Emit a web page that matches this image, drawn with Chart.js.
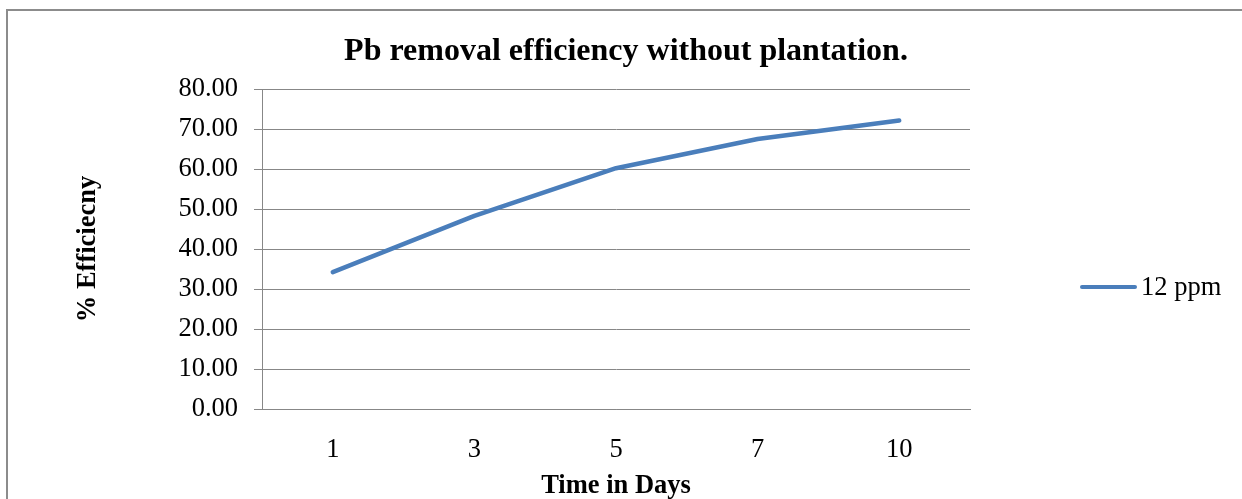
<!DOCTYPE html>
<html>
<head>
<meta charset="utf-8">
<script src="https://cdn.jsdelivr.net/npm/chart.js@4/dist/chart.umd.min.js"></script>
<style>
  html, body { margin: 0; padding: 0; background: #ffffff; overflow: hidden; }
  #frame { position: absolute; left: 6px; top: 9px; width: 1300px; height: 600px; border: 2px solid #8c8c8c; box-sizing: border-box; }
  #c { position: absolute; left: 0; top: 0; }
</style>
</head>
<body>
<div id="frame"></div>
<canvas id="c" width="1242" height="499"></canvas>
<script>
const categories = ['1', '3', '5', '7', '10'];
const seriesName = '12 ppm';
const efficiency = [34.2, 48.3, 60.2, 67.5, 72.1];
const yTicks = [0, 10, 20, 30, 40, 50, 60, 70, 80];

const chartTitle = 'Pb removal efficiency without plantation.';
const xTitle = 'Time in Days';
const yTitle = '% Efficiecny';

const SERIF = '"Liberation Serif", "Times New Roman", serif';
const GRID = '#878787';
const LINE = '#4a7ebb';
const FS = 26.5;

const legendPlugin = {
  id: 'sideLegend',
  afterDraw(chart) {
    const ds = chart.data.datasets[0];
    const a = chart.chartArea;
    const ctx = chart.ctx;
    const y = a.top + 198;
    const x0 = a.right + 112;
    ctx.save();
    ctx.strokeStyle = ds.borderColor;
    ctx.lineWidth = 4;
    ctx.lineCap = 'round';
    ctx.beginPath();
    ctx.moveTo(x0, y);
    ctx.lineTo(x0 + 53, y);
    ctx.stroke();
    ctx.fillStyle = '#000';
    ctx.font = FS + 'px ' + SERIF;
    ctx.textBaseline = 'middle';
    ctx.textAlign = 'left';
    ctx.fillText(ds.label, x0 + 59, y + 1);
    ctx.restore();
  }
};

new Chart(document.getElementById('c'), {
  type: 'line',
  data: {
    labels: categories,
    datasets: [{
      label: seriesName,
      data: efficiency,
      borderColor: LINE,
      backgroundColor: LINE,
      borderWidth: 4.5,
      borderCapStyle: 'round',
      borderJoinStyle: 'round',
      pointRadius: 0,
      tension: 0,
      fill: false,
      yAxisID: 'y'
    }]
  },
  options: {
    responsive: false,
    animation: false,
    layout: { padding: { left: 10, right: 0, top: 0, bottom: 0 } },
    plugins: {
      legend: { display: false },
      tooltip: { enabled: false },
      title: {
        display: true,
        text: chartTitle,
        color: '#000',
        font: { family: SERIF, size: 32, weight: 'bold', lineHeight: 1.2 },
        padding: { top: 32.3, bottom: 18.3 }
      }
    },
    scales: {
      x: {
        offset: true,
        grid: { display: false, drawTicks: false },
        border: { display: true, color: GRID, width: 1 },
        ticks: { color: '#000', font: { family: SERIF, size: FS }, padding: 25, maxRotation: 0 },
        title: {
          display: true, text: xTitle, color: '#000',
          font: { family: SERIF, size: FS, weight: 'bold', lineHeight: 1 },
          padding: { top: 0, bottom: 0 }
        },
        afterFit(scale) { scale.height = 90; }
      },
      y: {
        position: 'left',
        min: 0,
        max: 80,
        afterBuildTicks(scale) { scale.ticks = yTicks.map(v => ({ value: v })); },
        grid: { color: GRID, lineWidth: 1, tickLength: 8, drawTicks: true },
        border: { display: true, color: GRID, width: 1 },
        ticks: {
          color: '#000', font: { family: SERIF, size: FS }, padding: 16,
          callback: (v) => Number(v).toFixed(2)
        },
        title: {
          display: true, text: yTitle, color: '#000',
          font: { family: SERIF, size: FS, weight: 'bold', lineHeight: 1.2 },
          padding: { top: 62.5, bottom: 0 }
        },
        afterFit(scale) { scale.width = 252; }
      },
      legendSpace: {
        type: 'linear',
        position: 'right',
        display: true,
        min: 0,
        max: 1,
        grid: { display: false, drawTicks: false },
        border: { display: false },
        ticks: { display: false },
        title: { display: false },
        afterFit(scale) { scale.width = 272; }
      }
    }
  },
  plugins: [legendPlugin]
});
</script>
</body>
</html>
